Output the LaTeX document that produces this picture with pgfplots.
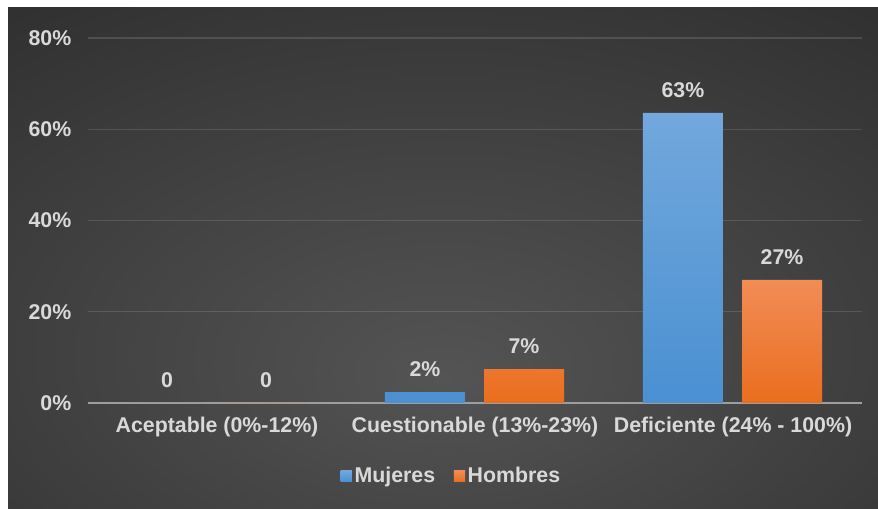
\documentclass[border=0pt]{standalone}
\usepackage{pgfplots}
\pgfplotsset{compat=1.18}
\usepackage{fontspec}
\setmainfont{Liberation Sans}
\definecolor{txt}{RGB}{217,217,217}
\definecolor{bgl}{RGB}{84,84,84}
\definecolor{bgd}{RGB}{36,36,36}
\definecolor{bluet}{RGB}{114,168,220}
\definecolor{blueb}{RGB}{74,144,210}
\definecolor{orat}{RGB}{242,140,86}
\definecolor{orab}{RGB}{234,110,30}
\pgfdeclareradialshading{bgshade}{\pgfpoint{0bp}{-12bp}}{color(0bp)=(bgl); color(55bp)=(bgd); color(100bp)=(bgd)}
\begin{document}
\begin{tikzpicture}
\fill[white] (0,0) rectangle (658.5pt,381.75pt);
\shade[shading=bgshade] (6pt,0) rectangle (658.5pt,375.75pt);
\useasboundingbox (0,0) rectangle (658.5pt,381.75pt);
\begin{axis}[
  at={(66pt,79.5pt)}, anchor=south west,
  scale only axis, width=580.5pt, height=273.75pt,
  xmin=-0.5, xmax=2.5, ymin=0, ymax=80,
  font=\fontsize{16}{19}\selectfont\bfseries,
  ybar, bar width=0.31,
  axis line style={draw=none}, tick style={draw=none},
  ymajorgrids, grid style={draw=white, draw opacity=0.13, line width=0.9pt},
  ytick={0,20,40,60,80}, yticklabels={0\%,20\%,40\%,60\%,80\%},
  extra y ticks={0}, extra y tick labels={},
  extra y tick style={grid style={draw=white!62!black, draw opacity=1, line width=1.3pt}},
  yticklabel style={text=txt, xshift=-9pt},
  xtick={0,1,2}, xticklabels={Aceptable (0\%-12\%),Cuestionable (13\%-23\%),Deficiente (24\% - 100\%)},
  xticklabel style={text=txt, yshift=-3pt},
  nodes near coords, point meta=explicit symbolic,
  every node near coord/.append style={text=txt, anchor=center, inner sep=0pt, yshift=17pt, font=\fontsize{16}{19}\selectfont\bfseries},
  legend style={draw=none, fill=none, at={(0.47,-0.2)}, anchor=center, legend columns=2, text=txt,
    /tikz/every even column/.append style={column sep=12pt}},
  legend image code/.code={\fill[#1] (0pt,-4.2pt) rectangle (8.4pt,4.2pt);},
]
\addplot[draw=none, top color=bluet, bottom color=blueb, bar shift=-0.194]
  coordinates {(0,0) [0] (1,2.4) [2\%] (2,63.6) [63\%]};
\addplot[draw=none, top color=orat, bottom color=orab, bar shift=0.19]
  coordinates {(0,0) [0] (1,7.4) [7\%] (2,27.0) [27\%]};
\legend{Mujeres,Hombres}
\end{axis}
\end{tikzpicture}
\end{document}
